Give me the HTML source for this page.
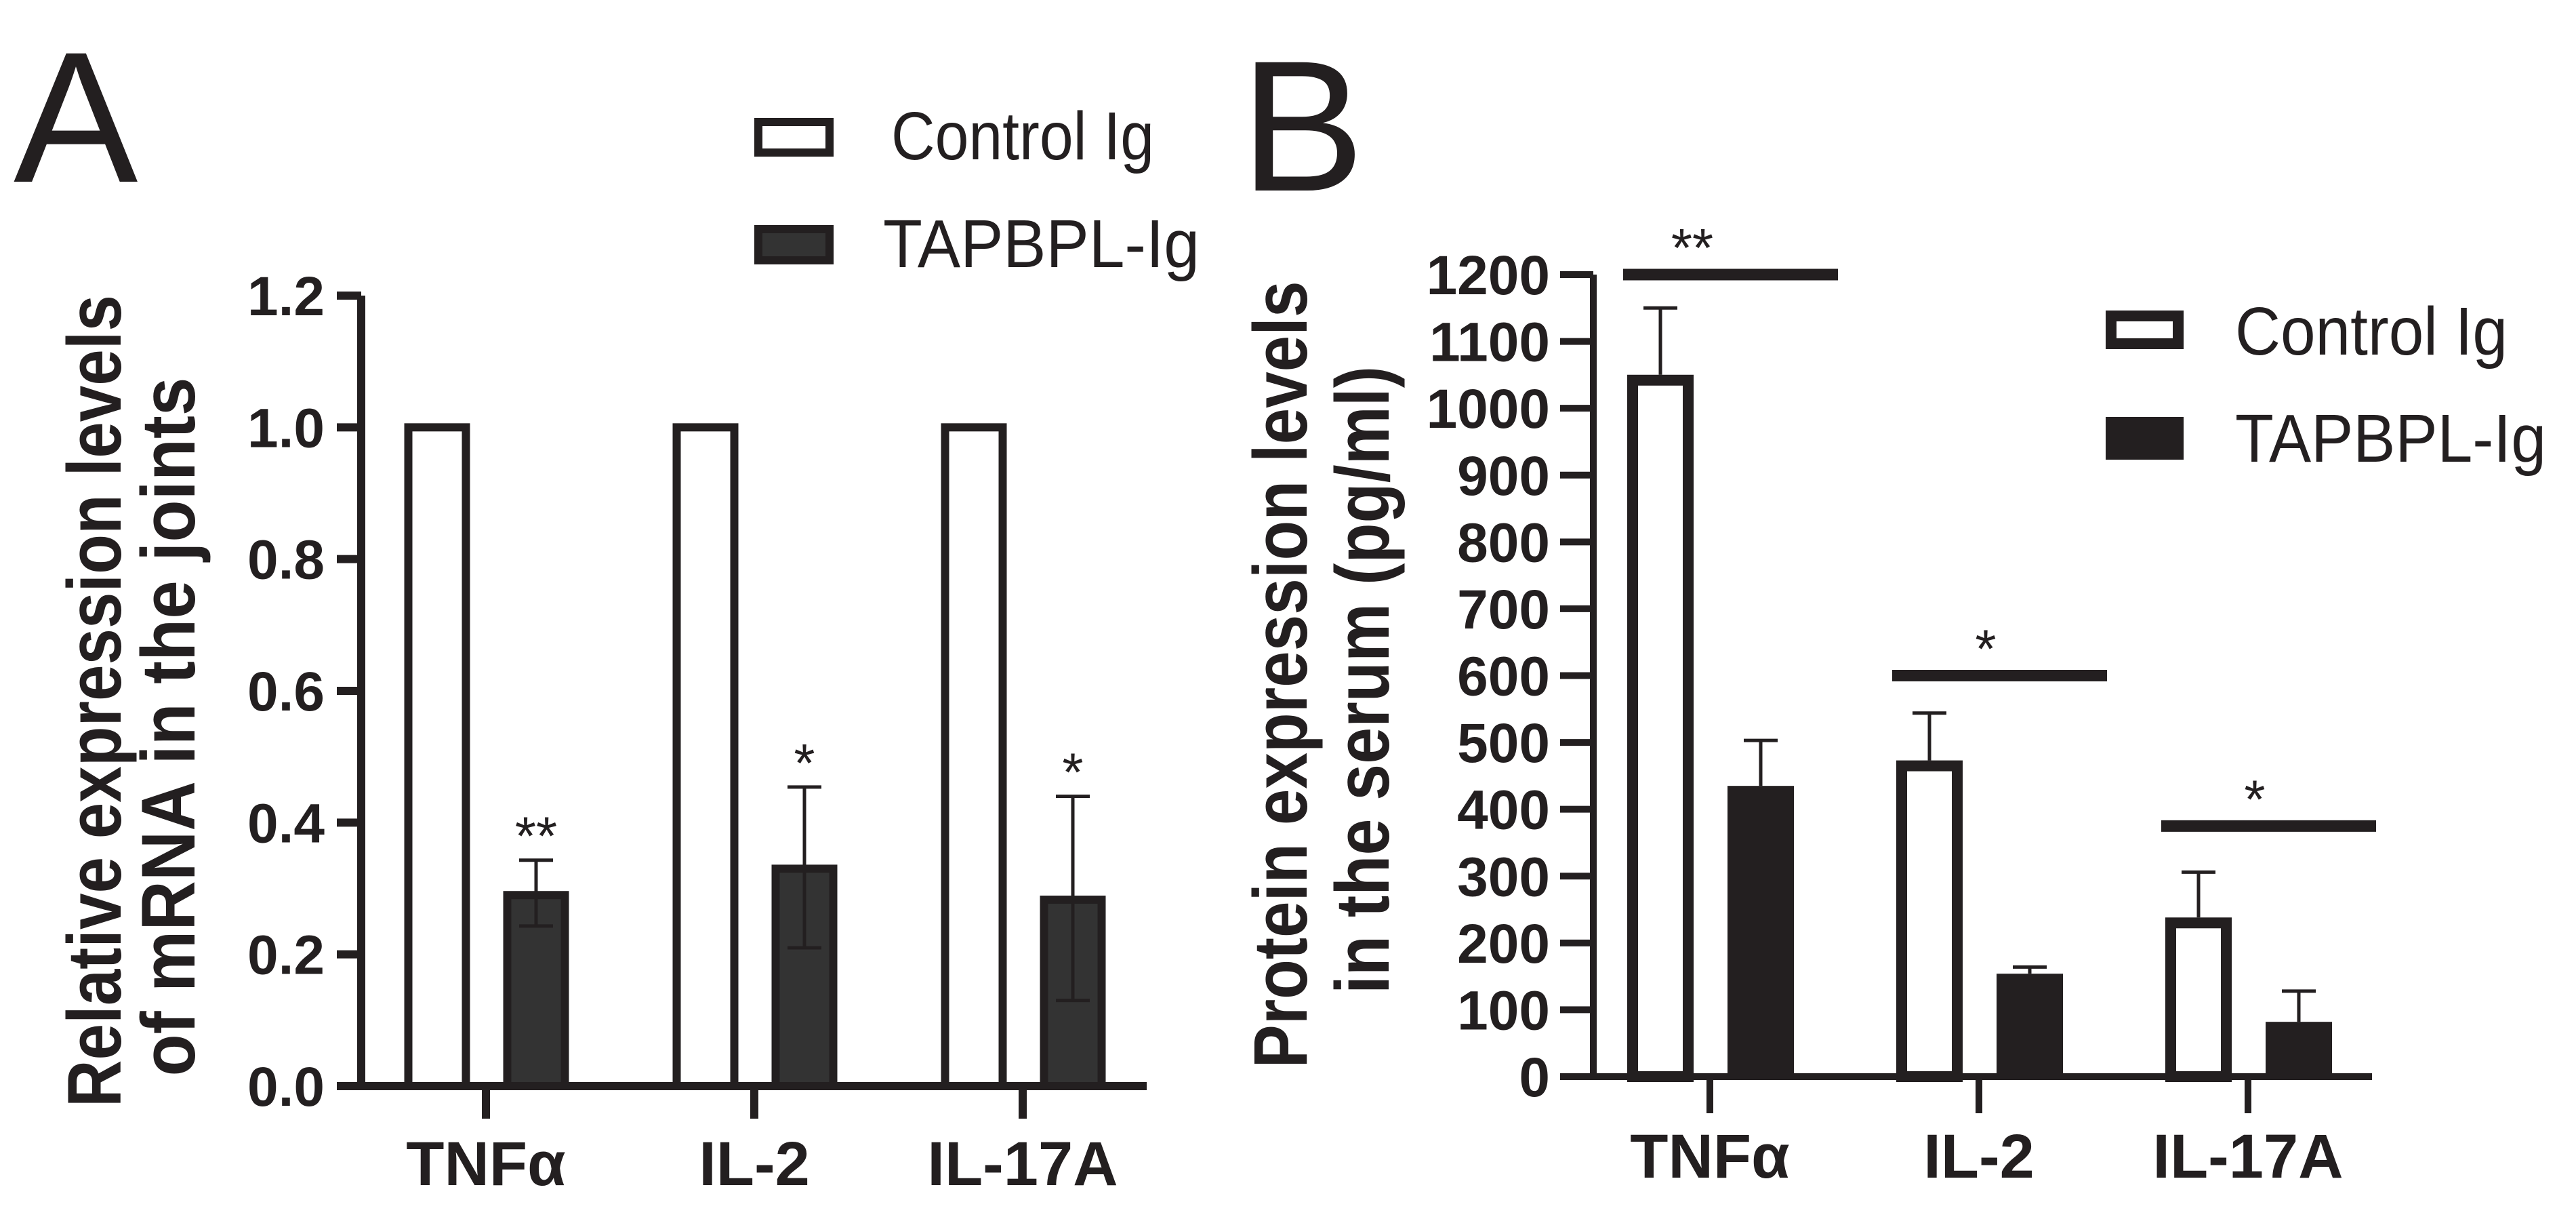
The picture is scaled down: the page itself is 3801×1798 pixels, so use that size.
<!DOCTYPE html>
<html><head><meta charset="utf-8"><style>
html,body{margin:0;padding:0;background:#fff;}
svg{display:block;font-family:"Liberation Sans",Arial,sans-serif;}
</style></head><body>
<svg id="fig" width="3801" height="1798" viewBox="0 0 3801 1798" xmlns="http://www.w3.org/2000/svg">
<rect width="3801" height="1798" fill="#fff"/>
<text x="20" y="268" font-size="275" fill="#231f20">A</text>
<text x="1830" y="281" font-size="275" fill="#231f20">B</text>
<g>
<rect x="1119" y="180" width="105" height="45" fill="#fff" stroke="#231f20" stroke-width="12"/>
<text x="1315" y="235" font-size="100" fill="#231f20" textLength="388" lengthAdjust="spacingAndGlyphs">Control Ig</text>
<rect x="1119" y="338" width="105" height="46" fill="#333" stroke="#231f20" stroke-width="12"/>
<text x="1303" y="394" font-size="100" fill="#231f20" textLength="467" lengthAdjust="spacingAndGlyphs">TAPBPL-Ig</text>
</g>
<g>
<rect x="3115" y="466" width="99" height="41" fill="#fff" stroke="#231f20" stroke-width="16"/>
<text x="3298" y="523" font-size="100" fill="#231f20" textLength="402" lengthAdjust="spacingAndGlyphs">Control Ig</text>
<rect x="3107" y="615" width="115" height="63" fill="#231f20"/>
<text x="3298" y="681" font-size="100" fill="#231f20" textLength="459" lengthAdjust="spacingAndGlyphs">TAPBPL-Ig</text>
</g>
<text transform="translate(178,1034) rotate(-90)" text-anchor="middle" font-size="112" font-weight="bold" fill="#231f20" textLength="1198" lengthAdjust="spacingAndGlyphs">Relative expression levels</text>
<text transform="translate(287,1072) rotate(-90)" text-anchor="middle" font-size="112" font-weight="bold" fill="#231f20" textLength="1031" lengthAdjust="spacingAndGlyphs">of mRNA in the  joints</text>
<text transform="translate(1928,995) rotate(-90)" text-anchor="middle" font-size="112" font-weight="bold" fill="#231f20" textLength="1161" lengthAdjust="spacingAndGlyphs">Protein expression levels</text>
<text transform="translate(2049,1003) rotate(-90)" text-anchor="middle" font-size="112" font-weight="bold" fill="#231f20" textLength="926" lengthAdjust="spacingAndGlyphs">in the serum (pg/ml)</text>
<g id="pa"></g>
<g id="pb"></g>
</svg>
<script>
const categories = ["TNFα", "IL-2", "IL-17A"];
const aTicks = ["0.0", "0.2", "0.4", "0.6", "0.8", "1.0", "1.2"];
const aTickValues = [0, 0.2, 0.4, 0.6, 0.8, 1.0, 1.2];
const aControl = [1.0, 1.0, 1.0];
const aTapbpl = [0.29, 0.33, 0.283];
const aTapbplErrUp = [0.343, 0.454, 0.44];
const aTapbplErrDown = [0.243, 0.21, 0.13];
const aSig = ["**", "*", "*"];
const bTicks = ["0","100","200","300","400","500","600","700","800","900","1000","1100","1200"];
const bTickValues = [0,100,200,300,400,500,600,700,800,900,1000,1100,1200];
const bControl = [1042, 465, 230];
const bControlErr = [1150, 544, 306];
const bTapbpl = [435, 154, 82];
const bTapbplErr = [503, 164, 128];
const bSig = ["**", "*", "*"];
const bSigLevel = [1200, 600, 375];

const NS = "http://www.w3.org/2000/svg";
const INK = "#231f20";
function mk(parent, tag, attrs) {
  const e = document.createElementNS(NS, tag);
  for (const k in attrs) e.setAttribute(k, attrs[k]);
  parent.appendChild(e);
  return e;
}
// Panel A
(function () {
  const g = document.getElementById("pa");
  const y0 = 1602, yTop = 436, vMax = 1.2;
  const ya = v => y0 - (v / vMax) * (y0 - yTop);
  const axX = 533, xEnd = 1692;
  const cx = i => 717 + i * 396;
  const bw = 85;
  for (let i = 0; i < aTickValues.length; i++) {
    const y = ya(aTickValues[i]);
    const t = mk(g, "line", {x1: 497, x2: axX, y1: y, y2: y, stroke: INK, "stroke-width": 12});
    
    
    const l = mk(g, "text", {x: 479, y: y + 29, "text-anchor": "end", "font-size": 82, "font-weight": "bold", fill: INK});
    
    
    l.textContent = aTicks[i];
  }
  for (let i = 0; i < categories.length; i++) {
    const c = cx(i);
    const h1 = ya(aControl[i]);
    const r1 = mk(g, "rect", {x: c - 72 - bw / 2, y: h1, width: bw, height: y0 - h1, fill: "#fff", stroke: INK, "stroke-width": 12});
    
    
    const h2 = ya(aTapbpl[i]);
    const bx = c + 74;
    const r2 = mk(g, "rect", {x: bx - bw / 2, y: h2, width: bw, height: y0 - h2, fill: "#333", stroke: INK, "stroke-width": 12});
    
    
    const eu = ya(aTapbplErrUp[i]), ed = ya(aTapbplErrDown[i]);
    const e1 = mk(g, "path", {d: `M${bx} ${eu}V${ed}M${bx - 25} ${eu}H${bx + 25}M${bx - 25} ${ed}H${bx + 25}`, stroke: INK, "stroke-width": 5, fill: "none"});
    
    
    const s = mk(g, "text", {x: bx, y: eu - 8, "text-anchor": "middle", "font-size": 80, fill: INK});
    
    
    s.textContent = aSig[i];
    const tk = mk(g, "line", {x1: c, x2: c, y1: y0, y2: 1650, stroke: INK, "stroke-width": 12});
    
    
    const cl = mk(g, "text", {x: c, y: 1748, "text-anchor": "middle", "font-size": 92, "font-weight": "bold", fill: INK});
    
    
    cl.textContent = categories[i];
  }
  const ax = mk(g, "path", {d: `M${axX} ${yTop}V${y0}M497 ${y0}H${xEnd}`, stroke: INK, "stroke-width": 12, fill: "none"});
  
  
})();
// Panel B
(function () {
  const g = document.getElementById("pb");
  const y0 = 1588, yTop = 405, vMax = 1200;
  const yb = v => y0 - (v / vMax) * (y0 - yTop);
  const axX = 2351, xEnd = 3500;
  const cx = i => 2523 + i * 397;
  const bw = 82;
  for (let i = 0; i < bTickValues.length; i++) {
    const y = yb(bTickValues[i]);
    const t = mk(g, "line", {x1: 2302, x2: axX, y1: y, y2: y, stroke: INK, "stroke-width": 10});
    
    
    const l = mk(g, "text", {x: 2287, y: y + 29, "text-anchor": "end", "font-size": 82, "font-weight": "bold", fill: INK});
    
    
    l.textContent = bTicks[i];
  }
  for (let i = 0; i < categories.length; i++) {
    const c = cx(i);
    const x1 = c - 73;
    const h1 = yb(bControl[i]);
    const r1 = mk(g, "rect", {x: x1 - bw / 2, y: h1, width: bw, height: y0 - h1, fill: "#fff", stroke: INK, "stroke-width": 16});
    
    
    const e1y = yb(bControlErr[i]);
    const e1 = mk(g, "path", {d: `M${x1} ${e1y}V${h1 - 8}M${x1 - 25} ${e1y}H${x1 + 25}`, stroke: INK, "stroke-width": 5, fill: "none"});
    
    
    const x2 = c + 75;
    const h2 = yb(bTapbpl[i]);
    const r2 = mk(g, "rect", {x: x2 - 49, y: h2, width: 98, height: y0 - h2, fill: INK});
    
    
    const e2y = yb(bTapbplErr[i]);
    const e2 = mk(g, "path", {d: `M${x2} ${e2y}V${h2}M${x2 - 25} ${e2y}H${x2 + 25}`, stroke: INK, "stroke-width": 5, fill: "none"});
    
    
    const sy = yb(bSigLevel[i]);
    const sl = mk(g, "line", {x1: c - 128, x2: c + 189, y1: sy, y2: sy, stroke: INK, "stroke-width": 17});
    
    
    const s = mk(g, "text", {x: c + 10 - (i === 0 ? 36 : 0), y: sy - 12, "text-anchor": "middle", "font-size": 80, fill: INK});
    
    
    s.textContent = bSig[i];
    const tk = mk(g, "line", {x1: c, x2: c, y1: y0, y2: 1642, stroke: INK, "stroke-width": 10});
    
    
    const cl = mk(g, "text", {x: c, y: 1737, "text-anchor": "middle", "font-size": 92, "font-weight": "bold", fill: INK});
    
    
    cl.textContent = categories[i];
  }
  const ax = mk(g, "path", {d: `M${axX} ${yTop}V${y0}M2302 ${y0}H${xEnd}`, stroke: INK, "stroke-width": 10, fill: "none"});
  
  
})();
</script>
</body></html>
